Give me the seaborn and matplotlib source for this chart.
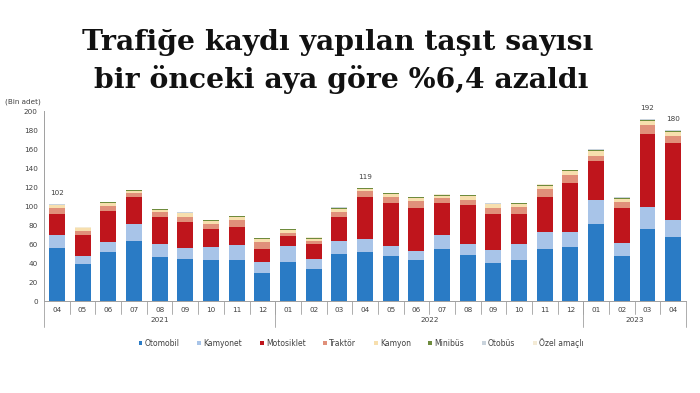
import numpy as np
import pandas as pd
import matplotlib
matplotlib.use("Agg")
import matplotlib.pyplot as plt
import seaborn as sns
from matplotlib.patches import Patch

months = ["04","05","06","07","08","09","10","11","12",
          "01","02","03","04","05","06","07","08","09","10","11","12",
          "01","02","03","04"]
years = ["2021", "2022", "2023"]
year_counts = [9, 12, 4]

series_names = ["Otomobil", "Kamyonet", "Motosiklet", "Traktör", "Kamyon",
                "Minibüs", "Otobüs", "Özel amaçlı"]

otomobil = [55.8, 38.6, 52.0, 63.0, 46.0, 44.2, 43.5, 43.5, 29.5,
            41.4, 34.0, 49.5, 52.0, 47.0, 43.0, 54.4, 48.4, 40.0, 43.5, 55.0, 56.5,
            81.4, 47.0, 76.0, 67.7]
kamyonet = [13.2, 9.1, 10.5, 17.7, 13.6, 11.6, 13.0, 15.5, 11.9,
            16.1, 10.2, 13.7, 13.6, 11.0, 9.6, 15.1, 11.6, 14.0, 16.9, 17.6, 16.5,
            24.6, 14.4, 22.6, 17.3]
motosiklet = [23.0, 21.8, 31.9, 28.8, 29.2, 27.2, 19.5, 18.5, 13.6,
              10.5, 15.4, 25.2, 43.9, 45.0, 45.4, 34.0, 41.4, 38.0, 31.6, 37.4, 51.2,
              41.0, 36.6, 77.4, 81.3]
traktor = [5.5, 4.2, 6.0, 4.2, 4.9, 5.8, 5.4, 7.5, 6.8,
           4.0, 3.9, 5.6, 5.9, 7.0, 7.0, 4.5, 5.3, 6.2, 6.6, 7.5, 8.8,
           6.0, 6.6, 9.0, 7.7]
kamyon = [3.2, 2.8, 3.1, 2.3, 2.1, 3.5, 2.8, 3.8, 3.5,
          2.4, 2.1, 3.2, 2.8, 3.0, 3.8, 3.0, 3.8, 3.6, 3.4, 3.5, 3.8,
          5.0, 3.1, 4.5, 4.0]
minibus = [0.8, 0.6, 0.7, 0.8, 0.6, 0.6, 0.6, 0.7, 0.6,
           1.2, 0.8, 1.0, 0.6, 0.7, 0.7, 0.7, 0.7, 0.7, 0.7, 1.2, 0.9,
           1.3, 1.1, 1.5, 1.3]
otobus = [0.3] * 25
ozel = [0.2] * 25

labeled_bars = [0, 12, 23, 24]

colors = ["#2A7BC5", "#A8C4E8", "#BF151C", "#E0907A", "#F7DFAE",
          "#6E8B3D", "#C9D3DC", "#F4EBD6"]

data = np.array([otomobil, kamyonet, motosiklet, traktor, kamyon, minibus, otobus, ozel])
cum = np.cumsum(data, axis=0)
idx = np.arange(len(months))

sns.set_theme(style="white")
plt.rcParams['font.family'] = ['DejaVu Sans']

fig = plt.figure(figsize=(7, 3.93), dpi=100)
ax = fig.add_axes([0.063, 0.234, 0.917, 0.4835])

for k in range(len(series_names) - 1, -1, -1):
    df = pd.DataFrame({"i": idx, "v": cum[k]})
    sns.barplot(data=df, x="i", y="v", color=colors[k], saturation=1,
                width=0.62, ax=ax, linewidth=0, order=list(idx))

ax.set_xlim(-0.5, len(months) - 0.5)
ax.set_ylim(0, 200)
ax.set_yticks(np.arange(0, 201, 20))
ax.tick_params(axis="y", labelsize=5.2, colors="#404040", length=2.5, width=0.6, pad=2)
ax.set_xticks(idx)
ax.set_xticklabels(months)
ax.tick_params(axis="x", labelsize=5.2, colors="#404040", length=0, pad=4)
ax.set_xlabel("")
ax.set_ylabel("")
for s in ["top", "right"]:
    ax.spines[s].set_visible(False)
for s in ["left", "bottom"]:
    ax.spines[s].set_color("#A0A0A0")
    ax.spines[s].set_linewidth(0.7)
ax.tick_params(axis="y", color="#A0A0A0")

trans = ax.get_xaxis_transform()
for b in range(1, len(months)):
    ax.plot([b - 0.5, b - 0.5], [0, -0.068], transform=trans, color="#A0A0A0",
            lw=0.6, clip_on=False)
edges = [-0.5]
for c in year_counts:
    edges.append(edges[-1] + c)
for e in edges:
    ax.plot([e, e], [0, -0.135], transform=trans, color="#A0A0A0", lw=0.6, clip_on=False)
for y, a, b in zip(years, edges[:-1], edges[1:]):
    ax.text((a + b) / 2, -0.1, y, transform=trans, ha="center", va="center",
            fontsize=5.2, color="#404040")

totals = cum[-1]
for i in labeled_bars:
    ax.annotate(f"{totals[i]:.0f}", (i, totals[i]), xytext=(0, 8),
                textcoords="offset points", ha="center", va="center",
                fontsize=5.2, color="#404040")

ax.text(-0.005, 1.05, "(Bin adet)", transform=ax.transAxes, ha="right", va="center",
        fontsize=5.2, color="#404040")

handles = [Patch(facecolor=c, edgecolor="none") for c in colors]
fig.legend(handles, series_names, loc="center", bbox_to_anchor=(0.516, 0.127),
           ncol=8, frameon=False, fontsize=5.5, handlelength=0.5, handleheight=0.5,
           handletextpad=0.3, columnspacing=2.3, labelcolor="#404040")

fig.text(0.483, 0.893, "Trafiğe kaydı yapılan taşıt sayısı", ha="center", va="center",
         fontsize=20.3, fontweight="bold", family="DejaVu Serif", color="#111111")
fig.text(0.487, 0.797, "bir önceki aya göre %6,4 azaldı", ha="center", va="center",
         fontsize=20.3, fontweight="bold", family="DejaVu Serif", color="#111111")

fig.savefig("out.png", dpi=100)
